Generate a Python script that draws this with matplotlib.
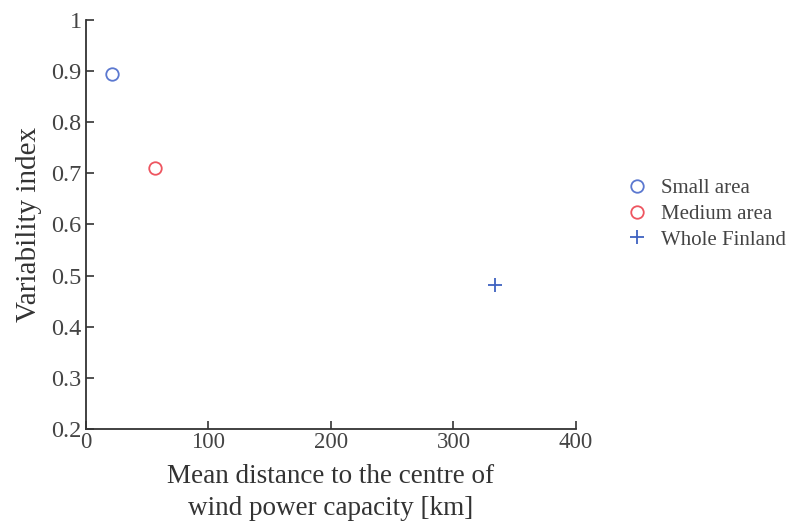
import matplotlib.pyplot as plt

plt.rcParams['font.family'] = ['Liberation Serif', 'DejaVu Serif']

# mean distance [km] and variability index for each area
labels = ['Small area', 'Medium area', 'Whole Finland']
distance = [21, 56, 334]
variability = [0.894, 0.711, 0.482]
markers = ['o', 'o', '+']
colors = ['#5b78d0', '#ee5560', '#3f62c0']

x_ticks = [0, 100, 200, 300, 400]
y_ticks = [0.2, 0.3, 0.4, 0.5, 0.6, 0.7, 0.8, 0.9, 1]
y_tick_labels = ['0.2', '0.3', '0.4', '0.5', '0.6', '0.7', '0.8', '0.9', '1']

fig = plt.figure(figsize=(7.88, 5.22), dpi=100)
ax = fig.add_axes([0.109, 0.178, 0.622, 0.784])

for x, y, m, c, lab in zip(distance, variability, markers, colors, labels):
    ax.plot(x, y, linestyle='none', marker=m, markersize=9 if m == 'o' else 10,
            markerfacecolor='none', markeredgecolor=c, markeredgewidth=1.3, label=lab)

ax.set_xlim(0, 400)
ax.set_ylim(0.2, 1)
ax.set_xticks(x_ticks)
ax.set_yticks(y_ticks)
ax.set_yticklabels(y_tick_labels)
ax.tick_params(direction='in', length=6, width=1.2, colors='#333333', labelcolor='#444444')
ax.tick_params(axis='y', pad=3, labelsize=17.5)
ax.tick_params(axis='x', pad=2, labelsize=16.5)
for side in ['top', 'right']:
    ax.spines[side].set_visible(False)
for side in ['left', 'bottom']:
    ax.spines[side].set_linewidth(1.3)
    ax.spines[side].set_color('#333333')

ax.set_xlabel('Mean distance to the centre of\nwind power capacity [km]', fontsize=19.5,
              color='#333333', labelpad=8, linespacing=1.35)
ax.set_ylabel('Variability index', fontsize=21, color='#333333', labelpad=7)

fig.legend(loc='upper left', bbox_to_anchor=(0.771, 0.694), frameon=False, fontsize=15,
           handletextpad=0.65, labelspacing=0.3, handlelength=1.0, labelcolor='#444444')

fig.savefig('out.png', dpi=100, facecolor='white')
